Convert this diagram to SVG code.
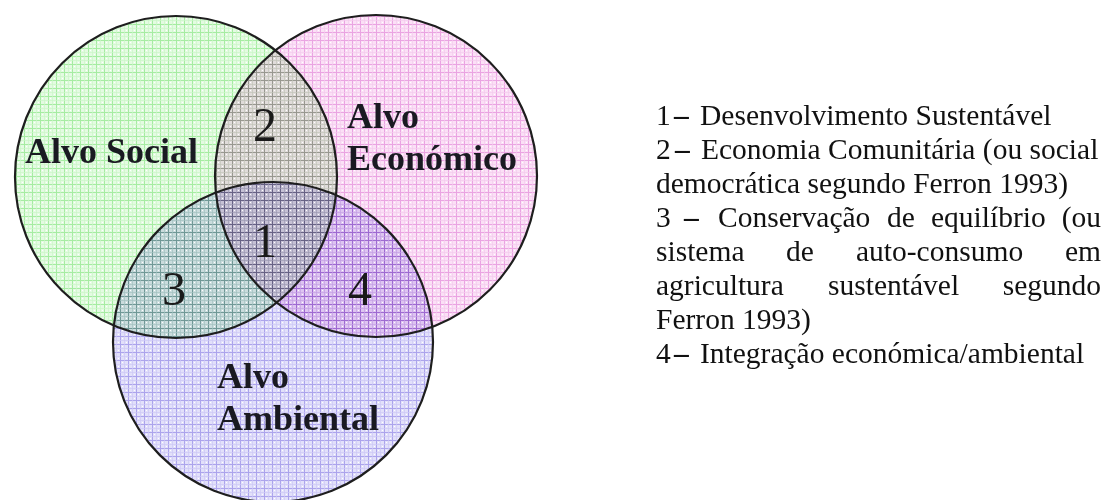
<svg xmlns="http://www.w3.org/2000/svg" width="1107" height="500" viewBox="0 0 1107 500">
<defs>
<pattern id="pg" width="8" height="8" patternUnits="userSpaceOnUse">
<rect width="8" height="8" fill="#e4fbe2"/>
<path d="M0 0.5H8M0.5 0V8" stroke="#a6eca2" stroke-width="1"/>
<path d="M4.5 0V8M0 4.5H8" stroke="#ccf6c8" stroke-width="0.7"/>
<rect x="2" y="2" width="1" height="1" fill="#ffffff"/>
<rect x="6" y="6" width="1" height="1" fill="#ffffff"/>
</pattern>
<pattern id="pp" width="8" height="8" patternUnits="userSpaceOnUse">
<rect width="8" height="8" fill="#fbe0f6"/>
<path d="M0 0.5H8M0.5 0V8" stroke="#eaa4e2" stroke-width="1"/>
<path d="M4.5 0V8M0 4.5H8" stroke="#f4ccee" stroke-width="0.7"/>
<rect x="2" y="2" width="1" height="1" fill="#ffffff"/>
<rect x="6" y="6" width="1" height="1" fill="#ffffff"/>
</pattern>
<pattern id="pv" width="8" height="8" patternUnits="userSpaceOnUse">
<rect width="8" height="8" fill="#e2e0fa"/>
<path d="M0 0.5H8M0.5 0V8" stroke="#aca4ec" stroke-width="1"/>
<path d="M4.5 0V8M0 4.5H8" stroke="#cec8f6" stroke-width="0.7"/>
<rect x="2" y="2" width="1" height="1" fill="#ffffff"/>
<rect x="6" y="6" width="1" height="1" fill="#ffffff"/>
</pattern>
</defs>
<style>
.fill{mix-blend-mode:multiply}
.ring{fill:none;stroke:#1e1e1e;stroke-width:2.2}
.lbl{font-family:"Liberation Serif","Times New Roman",serif;font-weight:bold;font-size:36px;fill:#1a1a22}
.num{font-family:"Liberation Serif","Times New Roman",serif;font-size:48px;fill:#1a1a1a;text-anchor:middle}
.leg{font-family:"Liberation Serif","Times New Roman",serif;font-size:29.5px;fill:#111}
.dash{font-weight:bold}
.end{text-anchor:end}
</style>
<rect width="1107" height="500" fill="#ffffff"/>
<g id="social">
<circle class="fill" cx="176" cy="177" r="161" fill="url(#pg)"/>
</g>
<g id="economico">
<circle class="fill" cx="376" cy="176" r="161" fill="url(#pp)"/>
</g>
<g id="ambiental">
<circle class="fill" cx="273" cy="342" r="160" fill="url(#pv)"/>
</g>
<g id="outlines">
<circle class="ring" cx="176" cy="177" r="161"/>
<circle class="ring" cx="376" cy="176" r="161"/>
<circle class="ring" cx="273" cy="342" r="160"/>
</g>
<g id="labels">
<text class="lbl" x="25" y="163">Alvo Social</text>
<text class="lbl" x="347" y="128">Alvo</text>
<text class="lbl" x="347" y="170">Económico</text>
<text class="lbl" x="217" y="388">Alvo</text>
<text class="lbl" x="217" y="430">Ambiental</text>
</g>
<g id="regions">
<text class="num" x="265" y="141">2</text>
<text class="num" x="265" y="257">1</text>
<text class="num" x="174" y="305">3</text>
<text class="num" x="360" y="305">4</text>
</g>
<g id="legend">
<text class="leg" x="656" y="125">1</text><text class="leg dash" x="674" y="125">–</text><text class="leg" x="700" y="125">Desenvolvimento Sustentável</text>
<text class="leg" x="656" y="159">2</text><text class="leg dash" x="675" y="159">–</text><text class="leg" x="701" y="159">Economia Comunitária (ou social</text>
<text class="leg" x="656" y="193">democrática segundo Ferron 1993)</text>
<text class="leg" x="656" y="227">3</text><text class="leg dash" x="684" y="227">–</text><text class="leg" x="718" y="227">Conservação</text><text class="leg" x="887" y="227">de</text><text class="leg" x="931" y="227">equilíbrio</text><text class="leg end" x="1101" y="227">(ou</text>
<text class="leg" x="656" y="261">sistema</text><text class="leg" x="786" y="261">de</text><text class="leg" x="856" y="261">auto-consumo</text><text class="leg end" x="1101" y="261">em</text>
<text class="leg" x="656" y="295">agricultura</text><text class="leg" x="828" y="295">sustentável</text><text class="leg end" x="1101" y="295">segundo</text>
<text class="leg" x="656" y="329">Ferron 1993)</text>
<text class="leg" x="656" y="363">4</text><text class="leg dash" x="674" y="363">–</text><text class="leg" x="700" y="363">Integração económica/ambiental</text>
</g>
</svg>
